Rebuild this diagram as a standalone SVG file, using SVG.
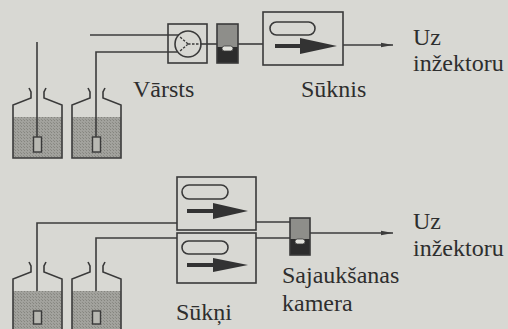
<svg xmlns="http://www.w3.org/2000/svg" width="508" height="329" viewBox="0 0 508 329">
  <defs>
    <style>
      .ln { fill: none; stroke: #3c3c3c; stroke-width: 1.6; }
      .box { fill: none; stroke: #3a3a3a; stroke-width: 1.6; }
      .bottle { fill: none; stroke: #3a3a3a; stroke-width: 1.6; stroke-linejoin: miter; }
      .oval { fill: none; stroke: #3a3a3a; stroke-width: 1.6; }
      .shaft { stroke: #333; stroke-width: 4; }
      .head { fill: #333; }
      .valve { fill: none; stroke: #3a3a3a; stroke-width: 1.4; stroke-dasharray: 2.5 1.5; }
      .tube-end { fill: #b8b8b2; stroke: #3a3a3a; stroke-width: 1.4; }
    </style>
    <marker id="tip" viewBox="0 0 12 6" refX="12" refY="3" markerWidth="12" markerHeight="6" markerUnits="userSpaceOnUse" orient="auto">
      <path d="M0,0.8 L12,3 L0,5.2 Z" fill="#3c3c3c"/>
    </marker>
    <pattern id="grain" width="3" height="3" patternUnits="userSpaceOnUse">
      <rect width="3" height="3" fill="#a2a29d"/>
      <rect width="1" height="1" fill="#85857f"/>
      <rect x="2" y="2" width="1" height="1" fill="#8c8c86"/>
    </pattern>
    <!-- one bottle with its liquid, reused four times -->
    <g id="bottleShape">
      <path fill="url(#grain)" d="M13,117 L62,117 L62,158 L13,158 Z"/>
      <path class="bottle" d="M29,88 L31,92 L31,98 L13,105 L13,158 L62,158 L62,105 L44,98 L44,92 L46,88"/>
    </g>
  </defs>

  <rect width="508" height="329" fill="#d8d8d3"/>

  <!-- upper arrangement -->
  <g id="bottle-top-left">
    <use href="#bottleShape"/>
    <rect class="tube-end" x="33.5" y="137" width="8" height="15"/>
  </g>
  <g id="bottle-top-right">
    <use href="#bottleShape" transform="translate(59,0)"/>
    <rect class="tube-end" x="92.5" y="137" width="8" height="15"/>
  </g>

  <g id="valve">
    <rect class="box" x="168" y="24" width="39" height="39"/>
    <circle cx="188" cy="44" r="13" fill="none" stroke="#3a3a3a" stroke-width="1.6"/>
    <path class="valve" d="M188,44 L179,36 M188,44 L179,52 M188,44 L201,44"/>
  </g>

  <g id="mixer-top">
    <rect x="217" y="24" width="21" height="23" fill="#8e8e8a"/>
    <rect x="217" y="47" width="21" height="16" fill="#2c2c2c"/>
    <rect class="box" x="217" y="24" width="21" height="39"/>
    <rect x="222" y="46" width="11" height="5" rx="2.5" fill="#e2e2dc" stroke="#3a3a3a" stroke-width="0.8"/>
  </g>

  <g id="pump-top">
    <rect class="box" x="263" y="12" width="80" height="53"/>
    <rect class="oval" x="270" y="22" width="45" height="13" rx="6.5"/>
    <line class="shaft" x1="275" y1="46" x2="302" y2="46"/>
    <path class="head" d="M300,38 L337,46 L300,54 Z"/>
  </g>

  <g id="connectors">
    <!-- upper -->
    <line class="ln" x1="37" y1="42" x2="37" y2="137"/>
    <line class="ln" x1="90" y1="35" x2="179" y2="35"/>
    <path class="ln" d="M96,137 L96,52 L177,52"/>
    <line class="ln" x1="201" y1="44" x2="217" y2="44"/>
    <line class="ln" x1="238" y1="44" x2="263" y2="44"/>
    <line class="ln" x1="343" y1="45" x2="393" y2="45" marker-end="url(#tip)"/>
    <!-- lower -->
    <path class="ln" d="M37,311 L37,223 L177,223"/>
    <path class="ln" d="M96,311 L96,238 L177,238"/>
    <line class="ln" x1="256" y1="222" x2="290" y2="222"/>
    <line class="ln" x1="256" y1="238" x2="290" y2="238"/>
    <line class="ln" x1="310" y1="233" x2="393" y2="233" marker-end="url(#tip)"/>
  </g>

  <!-- lower arrangement -->
  <g id="bottle-bottom-left">
    <use href="#bottleShape" transform="translate(0,174)"/>
    <rect class="tube-end" x="33.5" y="311" width="8" height="13"/>
  </g>
  <g id="bottle-bottom-right">
    <use href="#bottleShape" transform="translate(59,174)"/>
    <rect class="tube-end" x="92.5" y="311" width="8" height="13"/>
  </g>

  <g id="pump-1">
    <rect class="box" x="177" y="177" width="79" height="53"/>
    <rect class="oval" x="182" y="185" width="46" height="14" rx="7"/>
    <line class="shaft" x1="187" y1="211" x2="215" y2="211"/>
    <path class="head" d="M213,203 L248,211 L213,219 Z"/>
  </g>
  <g id="pump-2">
    <rect class="box" x="177" y="233" width="79" height="50"/>
    <rect class="oval" x="182" y="241" width="46" height="13" rx="6.5"/>
    <line class="shaft" x1="187" y1="265" x2="215" y2="265"/>
    <path class="head" d="M213,258 L248,265 L213,272 Z"/>
  </g>

  <g id="mixer-bottom">
    <rect x="290" y="218" width="20" height="21" fill="#8e8e8a"/>
    <rect x="290" y="239" width="20" height="16" fill="#2c2c2c"/>
    <rect class="box" x="290" y="218" width="20" height="37"/>
    <rect x="295" y="239" width="10" height="5" rx="2.5" fill="#e2e2dc" stroke="#3a3a3a" stroke-width="0.8"/>
  </g>

  <g id="labels" font-family="Liberation Serif, serif" font-size="24" fill="#2e2e2e">
    <text x="133" y="97">Vārsts</text>
    <text x="301" y="97">Sūknis</text>
    <text x="413" y="45">Uz</text>
    <text x="413" y="71">inžektoru</text>
    <text x="413" y="229">Uz</text>
    <text x="413" y="256">inžektoru</text>
    <text x="282" y="283">Sajaukšanas</text>
    <text x="282" y="311">kamera</text>
    <text x="176" y="320">Sūkņi</text>
  </g>
</svg>
